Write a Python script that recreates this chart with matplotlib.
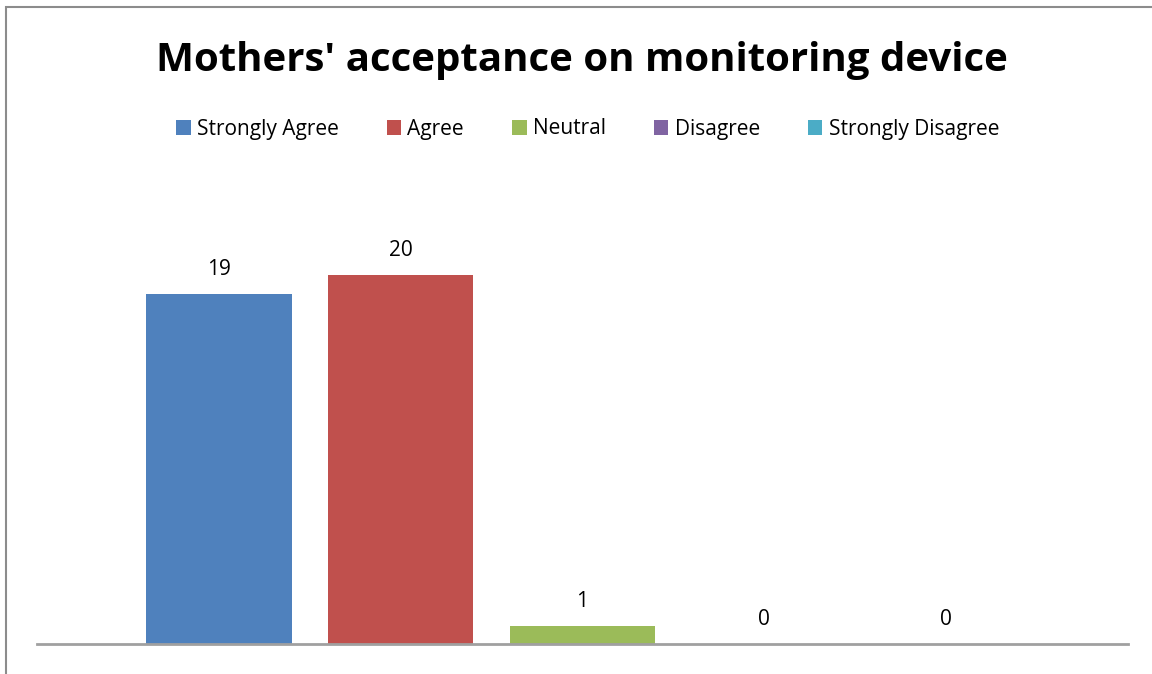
import matplotlib
matplotlib.use("Agg")
import matplotlib.pyplot as plt
from matplotlib.patches import Rectangle

categories = ["Strongly Agree", "Agree", "Neutral", "Disagree", "Strongly Disagree"]
counts = [19, 20, 1, 0, 0]
colors = ["#4f81bd", "#c0504d", "#9bbb59", "#8064a2", "#4bacc6"]

plt.rcParams["font.family"] = ["Open Sans", "DejaVu Sans"]

W, H = 1152, 674
fig = plt.figure(figsize=(W / 100, H / 100), dpi=100)
ax = fig.add_axes([37 / W, 30 / H, (1128 - 37) / W, (644 - 183) / H])

xs = list(range(len(categories)))
bars = []
for x, c, v, col in zip(xs, categories, counts, colors):
    b = ax.bar(x, v, width=0.8, color=col, label=c, zorder=2)
    bars.append(b)
    ax.annotate(str(v), (x, v), xytext=(0, 10), textcoords="offset points",
                ha="center", va="bottom", fontsize=15)

ax.set_xlim(-1, len(categories))
ax.set_ylim(0, 25)
for s in ["top", "right", "left"]:
    ax.spines[s].set_visible(False)
ax.spines["bottom"].set_color("#a0a0a0")
ax.spines["bottom"].set_linewidth(2)
ax.set_xticks([])
ax.set_yticks([])

fig.text(0.5 + 6 / W, 1 - 60 / H, "Mothers' acceptance on monitoring device",
         ha="center", va="center", fontsize=29, fontweight="bold")
fig.legend(handles=[b[0] for b in bars], labels=categories, loc="center",
           bbox_to_anchor=(0.51, 1 - 129 / H), ncol=5, frameon=False,
           fontsize=15, handlelength=0.7, handleheight=0.7, handletextpad=0.3,
           columnspacing=2.3)

fig.add_artist(Rectangle((6 / W, -0.1), 1.2, 1 - 7 / H + 0.1, transform=fig.transFigure,
                         fill=False, edgecolor="#8c8c8c", linewidth=1.5))

fig.savefig("out.png", dpi=100)
